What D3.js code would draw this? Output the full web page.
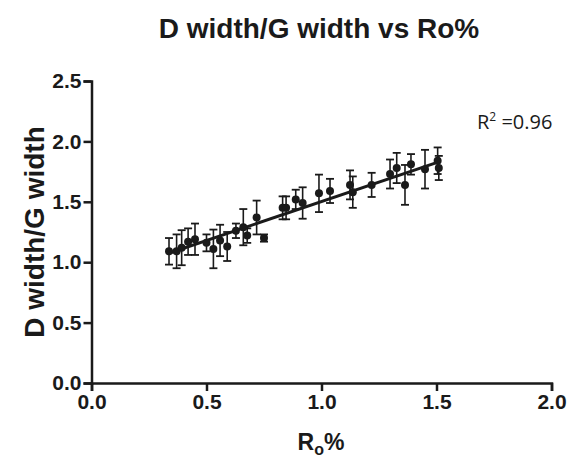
<!DOCTYPE html>
<html>
<head>
<meta charset="utf-8">
<script src="https://cdn.jsdelivr.net/npm/d3@7"></script>
<style>
  body { margin: 0; background: #fff; }
  .axis path, .axis line { stroke: #1a1a1a; stroke-width: 2.5; }
  .axis text { font-family: "Liberation Sans", Arial, sans-serif; font-weight: bold; font-size: 21px; fill: #1a1a1a; }
  .title { font-family: "Liberation Sans", Arial, sans-serif; font-weight: bold; fill: #1a1a1a; }
</style>
</head>
<body>
<div id="chart"></div>
<script>
//Data
const roValues   = [0.337, 0.37, 0.392, 0.42, 0.45, 0.50, 0.53, 0.559, 0.59, 0.628, 0.66, 0.677, 0.718, 0.75,
                    0.831, 0.846, 0.888, 0.918, 0.989, 1.037, 1.124, 1.136, 1.218, 1.298, 1.327, 1.363, 1.389, 1.45, 1.505, 1.51];
const ratioMeans = [1.09, 1.09, 1.12, 1.17, 1.19, 1.16, 1.11, 1.18, 1.13, 1.26, 1.29, 1.22, 1.37, 1.20,
                    1.45, 1.45, 1.52, 1.49, 1.57, 1.59, 1.64, 1.58, 1.64, 1.73, 1.78, 1.64, 1.81, 1.77, 1.84, 1.78];
const ratioErrs  = [0.11, 0.14, 0.145, 0.11, 0.13, 0.07, 0.16, 0.13, 0.12, 0.06, 0.15, 0.06, 0.14, 0.03,
                    0.095, 0.095, 0.08, 0.13, 0.155, 0.10, 0.12, 0.13, 0.10, 0.12, 0.125, 0.165, 0.085, 0.16, 0.11, 0.10];
const fitX = [0.33, 1.51];
const fitY = [1.07, 1.83];
const xTicks = [0, 0.5, 1.0, 1.5, 2.0];
const yTicks = [0, 0.5, 1.0, 1.5, 2.0, 2.5];
const rSquared = "0.96";

const data = roValues.map(function(x, i) {
  return { x: x, y: ratioMeans[i], e: ratioErrs[i] };
});
const fitData = fitX.map(function(x, i) { return { x: x, y: fitY[i] }; });

//Margin
const margin = { top: 81, right: 17.5, bottom: 74, left: 91.5 };
const width = 569 - margin.left - margin.right;
const height = 457 - margin.top - margin.bottom;

const svg = d3.select("#chart")
  .append("svg")
  .attr("width", 569)
  .attr("height", 457);

const g = svg.append("g")
  .attr("transform", "translate(" + margin.left + "," + margin.top + ")");

//Scales
const xScale = d3.scaleLinear().domain([0, 2]).range([0, width]);
const yScale = d3.scaleLinear().domain([0, 2.5]).range([height, 0]);

//Axes
const xAxis = d3.axisBottom(xScale)
  .tickValues(xTicks)
  .tickFormat(d3.format(".1f"))
  .tickSize(8)
  .tickSizeOuter(8)
  .tickPadding(3);
const yAxis = d3.axisLeft(yScale)
  .tickValues(yTicks)
  .tickFormat(d3.format(".1f"))
  .tickSize(8)
  .tickSizeOuter(8)
  .tickPadding(2);

g.append("g")
  .attr("class", "axis")
  .attr("transform", "translate(0," + height + ")")
  .call(xAxis);
g.append("g")
  .attr("class", "axis")
  .call(yAxis);

//Error bars
const capW = 4;
const bars = g.append("g").attr("class", "errorbars");
bars.selectAll("line.stem")
  .data(data)
  .enter().append("line")
  .attr("class", "stem")
  .attr("x1", function(d) { return xScale(d.x); })
  .attr("x2", function(d) { return xScale(d.x); })
  .attr("y1", function(d) { return yScale(d.y - d.e); })
  .attr("y2", function(d) { return yScale(d.y + d.e); })
  .attr("stroke", "#1a1a1a")
  .attr("stroke-width", 1.6);
bars.selectAll("line.captop")
  .data(data)
  .enter().append("line")
  .attr("class", "captop")
  .attr("x1", function(d) { return xScale(d.x) - capW; })
  .attr("x2", function(d) { return xScale(d.x) + capW; })
  .attr("y1", function(d) { return yScale(d.y + d.e); })
  .attr("y2", function(d) { return yScale(d.y + d.e); })
  .attr("stroke", "#1a1a1a")
  .attr("stroke-width", 1.8);
bars.selectAll("line.capbot")
  .data(data)
  .enter().append("line")
  .attr("class", "capbot")
  .attr("x1", function(d) { return xScale(d.x) - capW; })
  .attr("x2", function(d) { return xScale(d.x) + capW; })
  .attr("y1", function(d) { return yScale(d.y - d.e); })
  .attr("y2", function(d) { return yScale(d.y - d.e); })
  .attr("stroke", "#1a1a1a")
  .attr("stroke-width", 1.8);

//Fit line
const line = d3.line()
  .x(function(d) { return xScale(d.x); })
  .y(function(d) { return yScale(d.y); });
g.append("path")
  .datum(fitData)
  .attr("d", line)
  .attr("fill", "none")
  .attr("stroke", "#1a1a1a")
  .attr("stroke-width", 3);

//Points
g.selectAll("circle.pt")
  .data(data)
  .enter().append("circle")
  .attr("class", "pt")
  .attr("cx", function(d) { return xScale(d.x); })
  .attr("cy", function(d) { return yScale(d.y); })
  .attr("r", 4)
  .attr("fill", "#1a1a1a");

//Title
svg.append("text")
  .attr("class", "title")
  .attr("x", 319)
  .attr("y", 38)
  .attr("text-anchor", "middle")
  .style("font-size", "28px")
  .text("D width/G width vs Ro%");

//Axis titles
svg.append("text")
  .attr("class", "title")
  .attr("transform", "translate(44," + (margin.top + height / 2) + ") rotate(-90)")
  .attr("text-anchor", "middle")
  .style("font-size", "28px")
  .text("D width/G width");

const xt = svg.append("text")
  .attr("class", "title")
  .attr("x", 321)
  .attr("y", 450)
  .attr("text-anchor", "middle")
  .style("font-size", "23px");
xt.append("tspan").text("R");
xt.append("tspan").attr("dy", 5).style("font-size", "16px").text("o");
xt.append("tspan").attr("dy", -5).text("%");

//R squared
const rt = svg.append("text")
  .attr("x", 477)
  .attr("y", 129)
  .style("font-family", "'Open Sans', sans-serif")
  .style("font-size", "20px")
  .attr("fill", "#1a1a1a");
rt.append("tspan").text("R");
rt.append("tspan").attr("dy", -8).style("font-size", "12px").text("2");
rt.append("tspan").attr("dy", 8).text(" =" + rSquared);
</script>
</body>
</html>
